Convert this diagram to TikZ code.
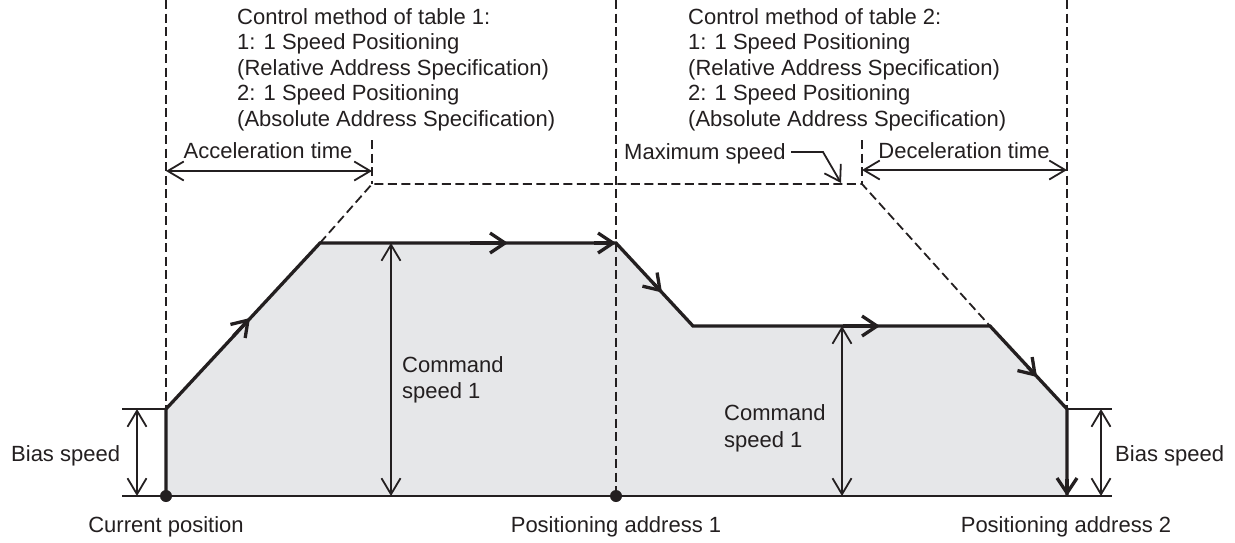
\documentclass[tikz,border=0pt]{standalone}
\usepackage{fontspec}
\setmainfont{Liberation Sans}
\usetikzlibrary{arrows.meta,calc}
\definecolor{ink}{HTML}{231F20}
\definecolor{area}{HTML}{E6E7E9}
\begin{document}
\begin{tikzpicture}[x=1pt,y=-1pt,
  lbl/.style={inner sep=0pt, anchor=base west, font=\fontsize{22}{25.5}\selectfont, text=ink},
  clbl/.style={lbl, anchor=base},
  curve/.style={line width=3.3pt, draw=ink, line join=miter},
  tipc/.style={-{Straight Barb[length=15pt,width=20pt]}},
  dim/.style={line width=1.8pt, draw=ink, {Straight Barb[length=16pt,width=19pt]}-{Straight Barb[length=16pt,width=19pt]}},
  thin/.style={line width=1.8pt, draw=ink},
  guide/.style={line width=1.8pt, draw=ink, dash pattern=on 9pt off 4.5pt},
  ]
\useasboundingbox (0,0) rectangle (1235,542);
% profile points
\coordinate (P0) at (166,496);
\coordinate (P1) at (166,409);
\coordinate (P2) at (320,243);
\coordinate (P3) at (616,243);
\coordinate (P4) at (693,326);
\coordinate (P5) at (990,326);
\coordinate (P6) at (1067,409);
\coordinate (P7) at (1067,496);
\coordinate (M0) at (616,496);
% mid arrows
\coordinate (m1) at (250,318);
\coordinate (m2) at (508,243);
\coordinate (m3) at (662,292.5);
\coordinate (m4) at (880,326);
\coordinate (m5) at (1037,377);
% guides
\coordinate (A) at (372,184);
\coordinate (D) at (862,184);
\coordinate (A0) at (372,140);
\coordinate (D0) at (862,140);
\coordinate (T1) at (166,0);
\coordinate (T2) at (616,0);
\coordinate (T3) at (1067,0);
\coordinate (B0) at (122,496);
\coordinate (B1) at (1112,496);
\coordinate (BL) at (122,409);
\coordinate (BR) at (1112,409);
% dimension ends
\coordinate (d1a) at (137,409); \coordinate (d1b) at (137,496);
\coordinate (d2a) at (391,243); \coordinate (d2b) at (391,496);
\coordinate (d3a) at (842,326); \coordinate (d3b) at (842,496);
\coordinate (d4a) at (1101,409); \coordinate (d4b) at (1101,496);
\coordinate (ta) at (166,171); \coordinate (tb) at (372,171);
\coordinate (tc) at (862,170); \coordinate (td) at (1067,170);
\coordinate (L0) at (791,152); \coordinate (L1) at (823,152); \coordinate (L2) at (841,183);

\fill[area] (P0) -- (P1) -- (P2) -- (P3) -- (P4) -- (P5) -- (P6) -- (P7) -- cycle;

\draw[guide] (T1) -- (P1);
\draw[guide] (T2) -- (M0);
\draw[guide] (T3) -- (P6);
\draw[guide] (A0) -- (A);
\draw[guide] (D0) -- (D);
\draw[guide] (P2) -- (A) -- (D) -- (P5);

\draw[line width=2pt, draw=ink] (B0) -- (B1);
\draw[thin] (BL) -- (P1);
\draw[thin] (P6) -- (BR);

\draw[dim] (d1a) -- (d1b);
\draw[dim] (d2a) -- (d2b);
\draw[dim] (d3a) -- (d3b);
\draw[dim] (d4a) -- (d4b);
\draw[dim] (ta) -- (tb);
\draw[dim] (tc) -- (td);
\draw[thin, -{Straight Barb[length=15pt,width=19pt]}] (L0) -- (L1) -- (L2);

\draw[curve] (P0) -- (P1) -- (P2) -- (P3) -- (P4) -- (P5) -- (P6) -- (P7);
\draw[curve,tipc] ($(P1)!0.8!(m1)$) -- (m1);
\draw[curve,tipc] ($(P2)!0.8!(m2)$) -- (m2);
\draw[curve,tipc] ($(m2)!0.8!(P3)$) -- (P3);
\draw[curve,tipc] ($(P3)!0.8!(m3)$) -- (m3);
\draw[curve,tipc] ($(P4)!0.8!(m4)$) -- (m4);
\draw[curve,tipc] ($(P5)!0.8!(m5)$) -- (m5);
\draw[curve,tipc] ($(P6)!0.8!(P7)$) -- (P7);

\fill[ink] (P0) circle (6pt);
\fill[ink] (M0) circle (6pt);

\node[lbl] (c1a) at (237,24) {Control method of table 1:};
\node[lbl] (c1b) at (237,49.5) {1: 1 Speed Positioning};
\node[lbl] (c1c) at (237,75) {(Relative Address Specification)};
\node[lbl] (c1d) at (237,100.5) {2: 1 Speed Positioning};
\node[lbl] (c1e) at (237,126) {(Absolute Address Specification)};
\node[lbl] (c2a) at (688,24) {Control method of table 2:};
\node[lbl] (c2b) at (688,49.5) {1: 1 Speed Positioning};
\node[lbl] (c2c) at (688,75) {(Relative Address Specification)};
\node[lbl] (c2d) at (688,100.5) {2: 1 Speed Positioning};
\node[lbl] (c2e) at (688,126) {(Absolute Address Specification)};
\node[clbl] (acc) at (268,158) {Acceleration time};
\node[clbl] (dec) at (964,158) {Deceleration time};
\node[lbl] (max) at (624,159) {Maximum speed};
\node[lbl] (cs1a) at (402,372) {Command};
\node[lbl] (cs1b) at (402,398) {speed 1};
\node[lbl] (cs2a) at (724,420) {Command};
\node[lbl] (cs2b) at (724,447) {speed 1};
\node[lbl] (bl) at (11,461) {Bias speed};
\node[lbl] (br) at (1115,461) {Bias speed};
\node[clbl] (cur) at (166,532) {Current position};
\node[clbl] (pa1) at (616,532) {Positioning address 1};
\node[clbl] (pa2) at (1066,532) {Positioning address 2};
\end{tikzpicture}
\end{document}
